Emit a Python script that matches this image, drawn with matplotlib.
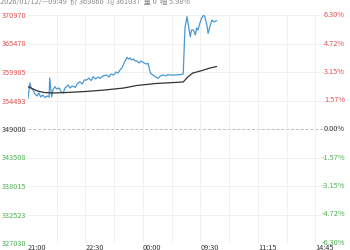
import matplotlib
matplotlib.use("Agg")
import matplotlib.pyplot as plt

plt.rcParams['font.family'] = ['Noto Sans CJK SC', 'DejaVu Sans']

# --- data ---
price_t = [0, 3, 5, 8, 11, 14, 17, 20, 23, 27, 30, 33, 34, 37, 39, 42, 45, 49, 52, 55,
           58, 63, 66, 69, 74, 77, 81, 85, 88, 92, 95, 99, 102, 106, 110, 113, 117, 123,
           127, 130, 134, 138, 141, 144, 147, 149, 152, 155, 157, 160, 162, 165, 168, 170,
           174, 177, 181, 185, 188, 191, 193, 196, 200, 204, 207, 212, 216, 219, 222, 230,
           238, 243, 245, 246, 249, 251, 254, 256, 259, 262, 264, 266, 269, 272, 275, 277,
           280, 282, 285, 288, 291, 295]
price_v = [354916, 357864, 356900, 356515, 355745, 355360, 355937, 355166, 355552, 355070,
           355360, 355166, 358828, 355166, 356515, 357151, 356708, 356900, 356130, 355937,
           356900, 357479, 356900, 357286, 357036, 357672, 358115, 357672, 358442, 358442,
           358828, 358346, 359078, 358635, 359020, 358770, 359213, 359406, 359020, 359598,
           359406, 359984, 359791, 360369, 360755, 361333, 362104, 362817, 362489, 362682,
           362296, 362489, 362104, 362162, 361718, 362104, 361776, 361526, 361660, 360042,
           359598, 359406, 359020, 358770, 359213, 359406, 359213, 359502, 359406, 359406,
           359464, 359598, 366150, 368713, 370640, 369040, 366786, 368077, 368077, 367114,
           368463, 368077, 369368, 370390, 370970, 370582, 369040, 367434, 368848, 370004,
           369619, 369860]
avg_t = [0, 8, 15, 25, 40, 60, 90, 120, 150, 170, 200, 243, 250, 258, 270, 285, 295]
avg_v = [357151, 356708, 356323, 356034, 355937, 356034, 356226, 356515, 356900, 357382,
         357768, 358057, 359020, 359791, 360177, 360755, 361037]

y_ticks = [327030, 332522.5, 338015, 343507.5, 349000, 354492.5, 359985, 365477.5, 370970]
y_labels = ["327030", "332523", "338015", "343508", "349000", "354493", "359985", "365478", "370970"]
pct_labels = ["-6.30%", "-4.72%", "-3.15%", "-1.57%", "0.00%", "1.57%", "3.15%", "4.72%", "6.30%"]
x_ticks = [0, 90, 180, 270, 360, 450]
x_labels = ["21:00", "22:30", "00:00", "09:30", "11:15", "14:45"]
total_minutes = 465
header = "2026/01/12/—09:49  价 369860  均 361037  量 0  幅 5.98%"

RED = "#e0504f"
GREEN = "#4caf50"
MID = "#333333"

fig = plt.figure(figsize=(3.5, 2.5), dpi=100)
ax = fig.add_axes([28/350, 7/250, 297/350, 228/250])
ax.set_xlim(0, total_minutes)
ax.set_ylim(y_ticks[0], y_ticks[-1])

for spine in ax.spines.values():
    spine.set_visible(False)

# grid
for yv in y_ticks:
    if yv == 349000:
        ax.axhline(yv, color="#bbbbbb", lw=0.7, ls=(0, (3, 2)), zorder=1)
    else:
        ax.axhline(yv, color="#eeeeee", lw=0.6, zorder=1)
for xv in range(45, total_minutes, 45):
    ax.axvline(xv, color="#eeeeee", lw=0.6, zorder=1)

ax.plot(price_t, price_v, color="#4a98d3", lw=0.9, zorder=3)
ax.plot(avg_t, avg_v, color="#333333", lw=0.9, zorder=3)

ax.set_yticks(y_ticks)
ax.set_yticklabels(y_labels, fontsize=5.3)
ax.tick_params(axis="y", length=0, pad=1)
for i, lab in enumerate(ax.get_yticklabels()):
    lab.set_color(GREEN if i < 4 else (MID if i == 4 else RED))

ax.set_xticks(x_ticks)
ax.set_xticklabels(x_labels, fontsize=5.3, color="#333333", ha="left")
ax.tick_params(axis="x", length=0, pad=1)

for yv, lab, i in zip(y_ticks, pct_labels, range(9)):
    c = GREEN if i < 4 else (MID if i == 4 else RED)
    ax.text(1.0 + 20/297, yv, lab, transform=ax.get_yaxis_transform(), fontsize=5.3,
            color=c, ha="right", va="center")

fig.text(0.0, 1.0 - 2/250, header, fontsize=5.3, color="#888888", ha="left", va="center")

fig.savefig("out.png", dpi=100)
